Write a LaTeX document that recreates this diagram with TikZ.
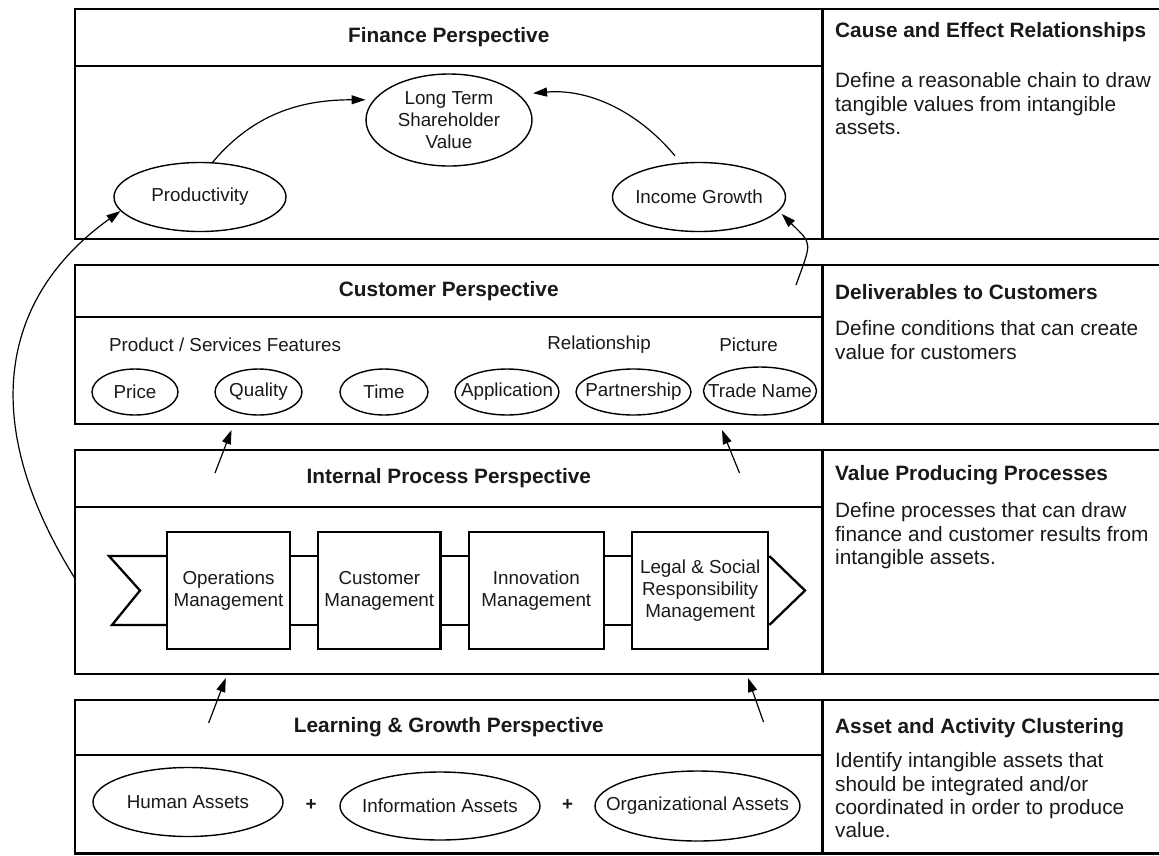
\documentclass[tikz,border=0pt]{standalone}
\usepackage{fontspec}
\setmainfont{Liberation Sans}
\usetikzlibrary{positioning,calc,arrows.meta,shapes.geometric}
\newcommand{\headFont}{\fontsize{20.8}{24}\selectfont\bfseries}
\newcommand{\noteFont}{\fontsize{20.8}{23.3}\selectfont}
\newcommand{\smallFont}{\fontsize{18.8}{22}\selectfont}
\tikzset{
  frameLine/.style={line width=2.7pt},
  bandHead/.style={
    draw, frameLine,
    anchor=north west,
    minimum width=747.6,
    inner sep=0pt, outer sep=0pt,
    font=\headFont
 },
  bandBody/.style={
    draw, frameLine,
    anchor=north west,
    minimum width=747.6,
    inner sep=0pt, outer sep=0pt
 },
  noteBox/.style={
    draw, frameLine,
    anchor=north west,
    minimum width=338.4,
    inner sep=0pt, outer sep=0pt
 },
  noteTitle/.style={anchor=base west, inner sep=0pt, font=\headFont},
  noteBody/.style={anchor=north west, inner sep=0pt, align=left, font=\noteFont},
  ovalNode/.style={
    ellipse, draw,
    line width=1.4pt,
    inner xsep=-60pt, inner ysep=-40pt,
    align=center,
    font=\smallFont
 },
  procBox/.style={
    rectangle, draw,
    line width=2.3pt,
    minimum width=122.5,
    minimum height=117,
    inner sep=0pt,
    align=center,
    font=\smallFont
 },
  subLabel/.style={inner sep=0pt, font=\smallFont},
  chainLine/.style={line width=2.3pt, line join=miter},
  arrowLine/.style={
    -{Triangle[length=14pt,width=9pt]},
    line width=1.2pt
 }
}
\begin{document}
\begin{tikzpicture}[x=1pt, y=-1pt, text=black!90]
\useasboundingbox (0,0) rectangle (1159,855);

% finance
\node[bandHead, minimum height=57] (finHead) at (75,9) {Finance Perspective};
\node[bandBody, minimum height=173, below=0pt of finHead] (finBody) {};
\node[noteBox, minimum height=230] (finNote) at (finHead.north east) {};
\node[noteTitle] (finTitle) at (835,37) {Cause and Effect Relationships};
\node[noteBody] (finText) at (835,72.5) {Define a reasonable chain to draw\\tangible values from intangible\\assets.};

\node[ovalNode, minimum width=166, minimum height=92] (longTerm) at (449,120) {Long Term\\Shareholder\\Value};
\node[ovalNode, minimum width=172, minimum height=69] (prod) at (200,197) {Productivity};
\node[ovalNode, minimum width=173, minimum height=69] (incGrowth) at (699,197) {Income Growth};

% customer
\node[bandHead, minimum height=52] (custHead) at (75,265) {Customer Perspective};
\node[bandBody, minimum height=107, below=0pt of custHead] (custBody) {};
\node[noteBox, minimum height=159] (custNote) at (custHead.north east) {};
\node[noteTitle] (custTitle) at (835,299) {Deliverables to Customers};
\node[noteBody] (custText) at (835,320.7) {Define conditions that can create\\value for customers};

\node[subLabel] (featLabel) at (225,345) {Product / Services Features};
\node[subLabel] (relLabel) at (599,345) {Relationship};
\node[subLabel] (picLabel) at (748.6,345) {Picture};
\node[ovalNode, minimum width=86, minimum height=46] (price) at (135,392) {Price};
\node[ovalNode, minimum width=87, minimum height=46] (quality) at (258.5,392) {Quality};
\node[ovalNode, minimum width=88, minimum height=46] (time) at (384,392) {Time};
\node[ovalNode, minimum width=104, minimum height=46] (application) at (507,392) {Application};
\node[ovalNode, minimum width=115, minimum height=46] (partnership) at (633.5,392) {Partnership};
\node[ovalNode, minimum width=113, minimum height=48] (tradeName) at (760,391) {Trade Name};

% internal process
\node[bandHead, minimum height=57] (intHead) at (75,450) {Internal Process Perspective};
\node[bandBody, minimum height=167, below=0pt of intHead] (intBody) {};
\node[noteBox, minimum height=224] (intNote) at (intHead.north east) {};
\node[noteTitle] (intTitle) at (835,480) {Value Producing Processes};
\node[noteBody] (intText) at (835,502.7) {Define processes that can draw\\finance and customer results from\\intangible assets.};

\node[procBox] (ops) at (228.5,590.5) {Operations\\Management};
\node[procBox, right=26pt of ops] (custMgmt) {Customer\\Management};
\node[procBox, minimum width=135, right=26pt of custMgmt] (innov) {Innovation\\Management};
\node[procBox, minimum width=136, right=26pt of innov] (legal) {Legal \& Social\\Responsibility\\Management};

\coordinate (chainTop) at (109,556);
\coordinate (chainBot) at (112,625);
\coordinate (notch) at (140,590.5);
\coordinate (tipR) at (805,590.5);
\draw[chainLine] (ops.west |- chainTop) -- (chainTop) -- (notch) -- (chainBot) -- (ops.west |- chainBot);
\foreach \a/\b in {ops/custMgmt, custMgmt/innov, innov/legal} {
  \draw[chainLine] (\a.east |- chainTop) -- (\b.west |- chainTop);
  \draw[chainLine] (\a.east |- chainBot) -- (\b.west |- chainBot);
}
\draw[chainLine] (legal.east |- chainTop) -- (tipR) -- (legal.east |- chainBot);

% learning and growth
\node[bandHead, minimum height=55] (lrnHead) at (75,700) {Learning \& Growth Perspective};
\node[bandBody, minimum height=98.5, below=0pt of lrnHead] (lrnBody) {};
\node[noteBox, minimum height=153.5] (lrnNote) at (lrnHead.north east) {};
\node[noteTitle] (lrnTitle) at (835,733) {Asset and Activity Clustering};
\node[noteBody] (lrnText) at (835,752.7) {Identify intangible assets that\\should be integrated and/or\\coordinated in order to produce\\value.};

\node[ovalNode, minimum width=190, minimum height=69] (human) at (188,802) {Human Assets};
\node[subLabel] (plusA) at (311,805) {\textbf{+}};
\node[ovalNode, minimum width=200, minimum height=68] (info) at (440,806) {Information Assets};
\node[subLabel] (plusB) at (567.5,805) {\textbf{+}};
\node[ovalNode, minimum width=205, minimum height=70] (org) at (697.5,806) {Organizational Assets};

% arrows
\coordinate (loopStart) at ($(intBody.west)+(0,-12)$);
\coordinate (custLift) at (796,285);
\coordinate (intLiftA) at (215,473);
\coordinate (intLiftB) at (739.5,473);
\coordinate (custTipA) at (231.5,430);
\coordinate (custTipB) at (722,430);
\coordinate (lrnLiftA) at (208.6,723);
\coordinate (lrnLiftB) at (763.5,722);
\coordinate (intTipA) at (225.8,678);
\coordinate (intTipB) at (748,678);

\draw[arrowLine, shorten >=8pt] (prod.70) to[out=50, in=180] (longTerm.165);
\draw[arrowLine, shorten <=9pt, shorten >=14pt] (incGrowth.118) to[out=130, in=5] (longTerm.20);
\draw[arrowLine, shorten >=4pt] (custLift) to[out=70, in=-45, looseness=1.6] (incGrowth.-10);
\draw[arrowLine] (loopStart) .. controls (-30,410) and (10,290) .. (prod.190);
\draw[arrowLine] (intLiftA) -- (custTipA);
\draw[arrowLine] (intLiftB) -- (custTipB);
\draw[arrowLine] (lrnLiftA) -- (intTipA);
\draw[arrowLine] (lrnLiftB) -- (intTipB);
\end{tikzpicture}
\end{document}
